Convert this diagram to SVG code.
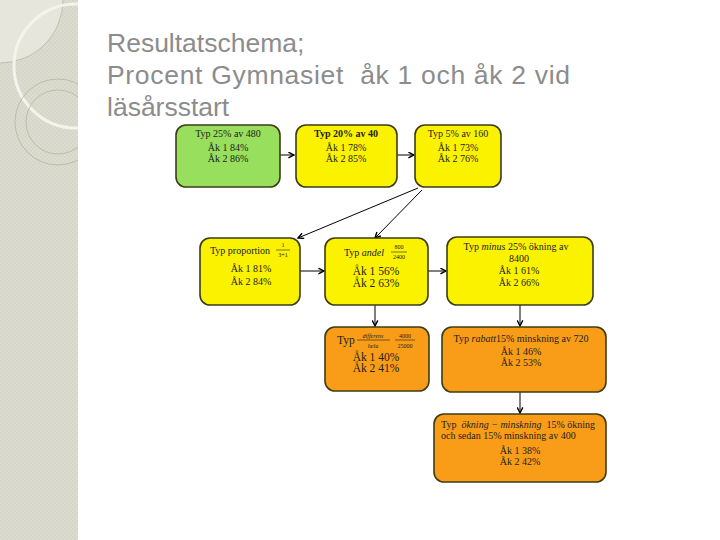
<svg xmlns="http://www.w3.org/2000/svg" width="720" height="540" viewBox="0 0 720 540">
<defs>
<pattern id="tex" width="4" height="4" patternUnits="userSpaceOnUse">
<rect width="4" height="4" fill="#dcdcd0"/>
<rect width="2" height="2" fill="#d5d5c8"/>
<rect x="2" y="2" width="2" height="2" fill="#d5d5c8"/>
</pattern>
<clipPath id="pc"><rect x="0" y="0" width="78" height="540"/></clipPath>
<marker id="ah" viewBox="0 0 10 10" refX="9" refY="5" markerWidth="7" markerHeight="7" orient="auto" markerUnits="userSpaceOnUse">
<path d="M1,1 L9,5 L1,9" fill="none" stroke="#000" stroke-width="2"/>
</marker>
</defs>
<style>
.title{font-family:"Liberation Sans",Arial,sans-serif;font-size:26.5px;fill:#8c8c8c}
.box{stroke:#3c3c14;stroke-width:1.6}
.g{fill:#97df5c}
.y{fill:#fbf200}
.o{fill:#f99c17}
.t{font-family:"Liberation Serif","Times New Roman",serif;font-size:10px;fill:#222;text-anchor:middle}
.tl{font-family:"Liberation Serif","Times New Roman",serif;font-size:10px;fill:#222}
.big{font-size:11.5px}
.sm{font-family:"Liberation Serif","Times New Roman",serif;font-size:6px;fill:#222;text-anchor:middle}
.i{font-style:italic}
.c{stroke:#000;stroke-width:1;fill:none}
</style>
<rect width="720" height="540" fill="#fff"/>
<g id="panel" clip-path="url(#pc)">
<rect x="0" y="0" width="78" height="540" fill="url(#tex)"/>
<circle cx="0" cy="0" r="63" fill="#e6e6dc" stroke="#b8b8aa" stroke-width="0.8"/>
<circle cx="76" cy="66" r="62" fill="none" stroke="#f4f4ec" stroke-width="3"/>
<circle cx="58" cy="122" r="43" fill="none" stroke="#b4b4a6" stroke-width="0.8"/>
<circle cx="58" cy="122" r="32" fill="none" stroke="#b4b4a6" stroke-width="0.8"/>
</g>
<g id="title">
<text class="title" x="107" y="52">Resultatschema;</text>
<text class="title" x="107" y="84" xml:space="preserve" textLength="463">Procent Gymnasiet  åk 1 och åk 2 vid</text>
<text class="title" x="107" y="116">läsårsstart</text>
</g>
<g id="connectors">
<line class="c" x1="280" y1="155" x2="294" y2="155" marker-end="url(#ah)"/>
<line class="c" x1="397" y1="155" x2="414" y2="155" marker-end="url(#ah)"/>
<line class="c" x1="418" y1="188" x2="298" y2="238" marker-end="url(#ah)"/>
<line class="c" x1="422" y1="190" x2="375" y2="238" marker-end="url(#ah)"/>
<line class="c" x1="300" y1="271" x2="324" y2="271" marker-end="url(#ah)"/>
<line class="c" x1="428" y1="271" x2="446" y2="271" marker-end="url(#ah)"/>
<line class="c" x1="375" y1="305" x2="375" y2="326" marker-end="url(#ah)"/>
<line class="c" x1="520" y1="305" x2="520" y2="326" marker-end="url(#ah)"/>
<line class="c" x1="520" y1="392" x2="520" y2="413" marker-end="url(#ah)"/>
</g>
<g id="n1">
<rect class="box g" x="176" y="125" width="104" height="62" rx="10"/>
<text class="t" x="228" y="137">Typ 25% av 480</text>
<text class="t" x="228" y="151">Åk 1 84%</text>
<text class="t" x="228" y="162">Åk 2 86%</text>
</g>
<g id="n2">
<rect class="box y" x="296" y="125" width="101" height="62" rx="10"/>
<text class="t" x="346" y="137" font-weight="bold">Typ 20% av 40</text>
<text class="t" x="346" y="151">Åk 1 78%</text>
<text class="t" x="346" y="162">Åk 2 85%</text>
</g>
<g id="n3">
<rect class="box y" x="415" y="125" width="86" height="62" rx="10"/>
<text class="t" x="458" y="137">Typ 5% av 160</text>
<text class="t" x="458" y="151">Åk 1 73%</text>
<text class="t" x="458" y="162">Åk 2 76%</text>
</g>
<g id="n4">
<rect class="box y" x="200" y="238" width="100" height="67" rx="10"/>
<text class="t" x="240" y="254">Typ proportion</text>
<text class="sm" x="283" y="247">1</text>
<line x1="276" y1="250" x2="290" y2="250" stroke="#222" stroke-width="0.6"/>
<text class="sm" x="283" y="257">3+1</text>
<text class="t" x="251" y="272">Åk 1 81%</text>
<text class="t" x="251" y="285">Åk 2 84%</text>
</g>
<g id="n5">
<rect class="box y" x="325" y="238" width="103" height="67" rx="10"/>
<text class="t" x="364" y="256">Typ <tspan class="i">andel</tspan></text>
<text class="sm" x="399" y="249">800</text>
<line x1="391" y1="252" x2="407" y2="252" stroke="#222" stroke-width="0.6"/>
<text class="sm" x="399" y="259">2400</text>
<text class="t big" x="376" y="275">Åk 1 56%</text>
<text class="t big" x="376" y="287">Åk 2 63%</text>
</g>
<g id="n6">
<rect class="box y" x="447" y="237" width="146" height="68" rx="10"/>
<text class="t" x="516" y="250">Typ <tspan class="i">minus</tspan> 25% ökning av</text>
<text class="t" x="519" y="262">8400</text>
<text class="t" x="519" y="274">Åk 1 61%</text>
<text class="t" x="519" y="286">Åk 2 66%</text>
</g>
<g id="n7">
<rect class="box o" x="325" y="327" width="104" height="64" rx="10"/>
<text class="tl big" x="337" y="344">Typ</text>
<text class="sm i" x="373" y="338">differens</text>
<line x1="357" y1="340" x2="390" y2="340" stroke="#222" stroke-width="0.6"/>
<text class="sm i" x="373" y="348">hela</text>
<text class="sm" x="405" y="338">4000</text>
<line x1="395" y1="340" x2="415" y2="340" stroke="#222" stroke-width="0.6"/>
<text class="sm" x="405" y="348">25000</text>
<text class="t big" x="376" y="361">Åk 1 40%</text>
<text class="t big" x="376" y="372">Åk 2 41%</text>
</g>
<g id="n8">
<rect class="box o" x="442" y="327" width="164" height="65" rx="10"/>
<text class="t" x="521" y="342">Typ <tspan class="i">rabatt</tspan>15% minskning av 720</text>
<text class="t" x="521" y="355">Åk 1 46%</text>
<text class="t" x="521" y="366">Åk 2 53%</text>
</g>
<g id="n9">
<rect class="box o" x="434" y="414" width="172" height="68" rx="10"/>
<text class="tl" x="441" y="428" xml:space="preserve">Typ  <tspan class="i">ökning − minskning</tspan>  15% ökning</text>
<text class="tl" x="441" y="439">och sedan 15% minskning av 400</text>
<text class="t" x="520" y="454">Åk 1 38%</text>
<text class="t" x="520" y="465">Åk 2 42%</text>
</g>
</svg>
